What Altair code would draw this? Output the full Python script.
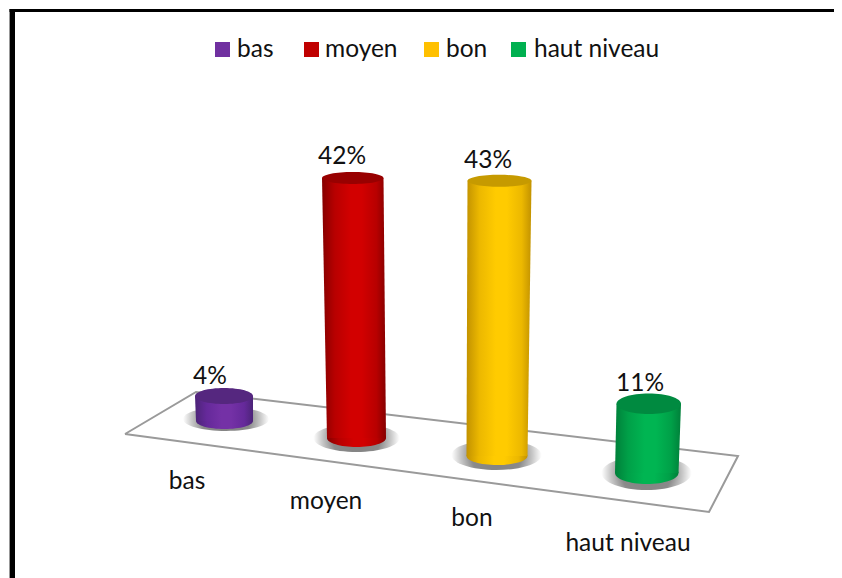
import altair as alt
import pandas as pd

categories = ["bas", "moyen", "bon", "haut niveau"]
values = [4, 42, 43, 11]
legend_colors = ["#7030a0", "#c00000", "#ffc000", "#00b050"]
edge_colors = ["#4c2478", "#860000", "#c29200", "#00803a"]
near_colors = ["#65299a", "#b80000", "#ecb800", "#00a048"]
mid_colors = ["#7431a6", "#d20000", "#ffcb00", "#00b552"]
top_colors = ["#55277f", "#980000", "#c69a00", "#008a40"]

# layout of the perspective floor (picture coordinates)
floor_x = [125, 196, 738, 709, 125]
floor_y = [434, 392, 456, 512, 434]
base_y = [421, 438, 456, 473]
unit_height = [6.25, 6.19, 6.4, 6.3]
top_left = [195, 322, 467.5, 616.5]
top_right = [253, 383.5, 531.5, 681]
base_left = [196, 327, 466.5, 615]
base_right = [253, 386, 527.5, 678.5]
top_ry = [8, 6, 6, 10.3]
base_ry = [8, 9, 9, 11]
shadow_cx = [226, 356.5, 496.5, 646.5]
shadow_cy = [419, 438, 455, 473]
shadow_rx = [43, 43, 45, 45]
shadow_ry = [12, 14, 15, 17]
value_label_x = [210, 342, 488, 640]
value_label_y = [376.5, 156.5, 160.5, 383.5]
cat_label_x = [187, 326, 472, 628]
cat_label_y = [481.5, 501.5, 518.5, 543.5]
legend_square_x = [222.5, 311.5, 431.5, 518.5]
legend_text_x = [237, 325, 446, 534]

X_SCALE = alt.Scale(domain=[8, 834], nice=False, zero=False)
Y_SCALE = alt.Scale(domain=[578, 8], nice=False, zero=False)
FONT = "Lato"
FONT_SIZE = 24.5


def X(f="x"):
    return alt.X(f"{f}:Q", scale=X_SCALE, axis=None)


def Y(f="y"):
    return alt.Y(f"{f}:Q", scale=Y_SCALE, axis=None)


def ellipse(cx, cy, rx, ry, fill):
    shape = f"M-1,0A1,{ry / rx:.4f},0,1,0,1,0A1,{ry / rx:.4f},0,1,0,-1,0Z"
    return (
        alt.Chart(pd.DataFrame({"x": [cx], "y": [cy]}))
        .mark_point(shape=shape, size=(2 * rx) ** 2, filled=True, fill=fill, opacity=1, strokeWidth=0, clip=False)
        .encode(x=X(), y=Y())
    )


layers = []

# picture frame
layers.append(
    alt.Chart(pd.DataFrame({"x": [9.5], "x2": [834], "y": [10.5]}))
    .mark_rule(color="#000000", strokeWidth=3)
    .encode(x=X(), x2="x2:Q", y=Y())
)
layers.append(
    alt.Chart(pd.DataFrame({"x": [12.3], "y": [9], "y2": [578]}))
    .mark_rule(color="#000000", strokeWidth=5.4)
    .encode(x=X(), y=Y(), y2="y2:Q")
)

# floor
layers.append(
    alt.Chart(pd.DataFrame({"x": floor_x, "y": floor_y, "o": range(len(floor_x))}))
    .mark_line(color="#9a9a9a", strokeWidth=2, strokeJoin="miter")
    .encode(x=X(), y=Y(), order="o:Q")
)

# legend
colour = alt.Color(
    "cat:N",
    scale=alt.Scale(domain=categories, range=legend_colors),
    legend=None,
)
layers.append(
    alt.Chart(pd.DataFrame({"cat": categories, "x": legend_square_x, "y": [49.5] * 4}))
    .mark_square(size=225, opacity=1, strokeWidth=0)
    .encode(x=X(), y=Y(), color=colour)
)
layers.append(
    alt.Chart(pd.DataFrame({"t": categories, "x": legend_text_x, "y": [57] * 4}))
    .mark_text(font=FONT, fontSize=FONT_SIZE, color="#111111", align="left", baseline="alphabetic")
    .encode(x=X(), y=Y(), text="t:N")
)

# cylinders
for i, cat in enumerate(categories):
    shadow = alt.RadialGradient(
        gradient="radial",
        x1=0.5, y1=0.5, x2=0.5, y2=0.5, r1=0, r2=0.5,
        stops=[
            alt.GradientStop(offset=0, color="#808080"),
            alt.GradientStop(offset=0.55, color="#8a8a8a"),
            alt.GradientStop(offset=0.8, color="#c8c8c8"),
            alt.GradientStop(offset=1, color="#ffffff"),
        ],
    )
    layers.append(ellipse(shadow_cx[i], shadow_cy[i], shadow_rx[i], shadow_ry[i], shadow))

    body = alt.LinearGradient(
        gradient="linear",
        x1=0, y1=0, x2=1, y2=0,
        stops=[
            alt.GradientStop(offset=0, color=edge_colors[i]),
            alt.GradientStop(offset=0.2, color=near_colors[i]),
            alt.GradientStop(offset=0.45, color=mid_colors[i]),
            alt.GradientStop(offset=0.62, color=mid_colors[i]),
            alt.GradientStop(offset=0.85, color=near_colors[i]),
            alt.GradientStop(offset=1, color=edge_colors[i]),
        ],
    )
    layers.append(
        ellipse((base_left[i] + base_right[i]) / 2, base_y[i],
                (base_right[i] - base_left[i]) / 2, base_ry[i], body)
    )
    top_y = base_y[i] - values[i] * unit_height[i]
    layers.append(
        alt.Chart(pd.DataFrame({
            "y": [top_y, base_y[i]],
            "x": [top_left[i], base_left[i]],
            "x2": [top_right[i], base_right[i]],
        }))
        .mark_area(orient="horizontal", fill=body, line=False, opacity=1)
        .encode(y=Y(), x=X(), x2="x2:Q")
    )
    layers.append(
        ellipse((top_left[i] + top_right[i]) / 2, top_y,
                (top_right[i] - top_left[i]) / 2, top_ry[i], top_colors[i])
    )

# value labels
layers.append(
    alt.Chart(pd.DataFrame({
        "x": value_label_x, "y": value_label_y,
        "t": [f"{v}%" for v in values],
    }))
    .mark_text(font=FONT, fontSize=FONT_SIZE, color="#111111", align="center", baseline="middle")
    .encode(x=X(), y=Y(), text="t:N")
)
# category labels
layers.append(
    alt.Chart(pd.DataFrame({"x": cat_label_x, "y": cat_label_y, "t": categories}))
    .mark_text(font=FONT, fontSize=FONT_SIZE, color="#111111", align="center", baseline="middle")
    .encode(x=X(), y=Y(), text="t:N")
)

chart = (
    alt.layer(*layers)
    .properties(width=826, height=570, padding=0, autosize=alt.AutoSizeParams(type="none"),
                background="#ffffff")
    .configure_view(stroke=None)
)

chart.save("out.html", embed_options={"renderer": "svg", "actions": False})
